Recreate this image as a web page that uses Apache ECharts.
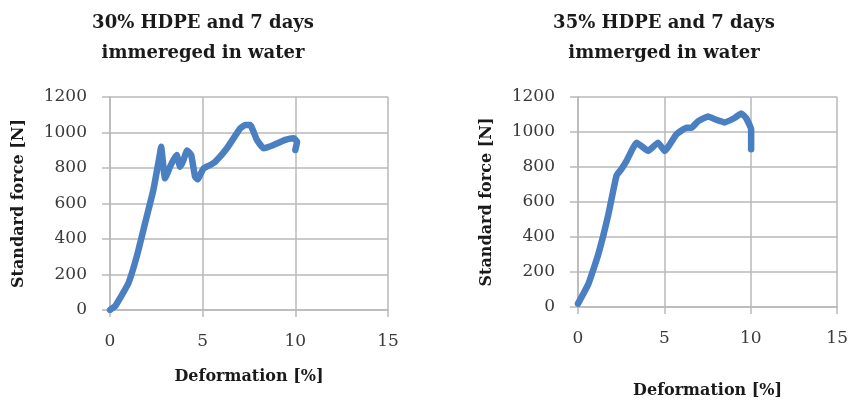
<!DOCTYPE html>
<html><head><meta charset="utf-8">
<script src="https://cdn.jsdelivr.net/npm/echarts@6/dist/echarts.min.js"></script>
<style>html,body{margin:0;padding:0;background:#fff}#c{width:851px;height:404px}</style>
</head><body><div id="c"></div>
<script>
var titles = ['30% HDPE and 7 days\nimmereged in water', '35% HDPE and 7 days\nimmerged in water'];
var xName = 'Deformation [%]';
var yName = 'Standard force [N]';
var xDef30 = [0, 0.3, 0.55, 0.99, 1.44, 1.89, 2.34, 2.67, 2.76, 2.88, 2.97, 3.24, 3.42, 3.6, 3.78, 3.93, 4.16, 4.38, 4.59, 4.72, 5.05, 5.41, 5.68, 6.31, 7.03, 7.3, 7.57, 7.78, 7.93, 8.29, 8.83, 9.46, 9.91, 10.09, 10.0];
var yF30   = [0, 25, 68, 150, 300, 488, 676, 864, 920, 807, 742, 807, 845, 873, 807, 835, 898, 873, 751, 736, 798, 817, 835, 911, 1024, 1042, 1042, 995, 958, 911, 930, 958, 967, 948, 901];
var xDef35 = [0, 0.6, 1.17, 1.75, 2.23, 2.52, 2.81, 3.39, 4.06, 4.63, 5.02, 5.69, 6.27, 6.56, 6.94, 7.52, 8.0, 8.48, 9.06, 9.45, 9.73, 10.02, 10.02];
var yF35   = [19, 131, 300, 526, 751, 789, 835, 939, 892, 939, 892, 986, 1024, 1024, 1061, 1089, 1070, 1055, 1080, 1106, 1080, 1014, 901];

function pairs(xs, ys){ return xs.map(function(x,i){ return [x, ys[i]]; }); }

var serif = '"DejaVu Serif", "Liberation Serif", serif';
var gridCol = '#b9b9b9';
function xAxis(idx, gap){
  return {type:'value', gridIndex:idx, min:0, max:15, interval:5,
    name:xName, nameLocation:'middle', nameGap:gap,
    nameTextStyle:{fontFamily:serif, fontWeight:'bold', fontSize:16, color:'#1a1a1a'},
    axisLine:{show:true, lineStyle:{color:gridCol, width:1.5}},
    axisTick:{show:true, length:7, lineStyle:{color:gridCol, width:1.5}},
    splitLine:{show:true, lineStyle:{color:gridCol, width:1.5}},
    axisLabel:{margin:23, fontFamily:serif, fontSize:17, color:'#3a3a3a', formatter:function(v){return String(v);}}};
}
function yAxis(idx){
  return {type:'value', gridIndex:idx, min:0, max:1200, interval:200,
    name:yName, nameLocation:'middle', nameGap:83,
    nameTextStyle:{fontFamily:serif, fontWeight:'bold', fontSize:16, color:'#1a1a1a'},
    axisLine:{show:true, lineStyle:{color:gridCol, width:1.5}},
    axisTick:{show:true, length:8, lineStyle:{color:gridCol, width:1.5}},
    splitLine:{show:true, lineStyle:{color:gridCol, width:1.5}},
    axisLabel:{margin:23, fontFamily:serif, fontSize:17, color:'#3a3a3a', formatter:function(v){return String(v);}}};
}
function ser(idx, data){
  return {type:'line', xAxisIndex:idx, yAxisIndex:idx, data:data, showSymbol:false, smooth:0.12,
    lineStyle:{color:'#4a7fc1', width:6.5, cap:'round', join:'round'}, silent:true};
}
var chart = echarts.init(document.getElementById('c'), null, {renderer:'canvas'});
chart.setOption({
  animation:false,
  title:[
    {text:titles[0], left:198, top:3, textAlign:'center', textStyle:{fontFamily:serif, fontWeight:'bold', fontSize:18, lineHeight:30, color:'#1a1a1a'}},
    {text:titles[1], left:659, top:3, textAlign:'center', textStyle:{fontFamily:serif, fontWeight:'bold', fontSize:18, lineHeight:30, color:'#1a1a1a'}}
  ],
  grid:[
    {left:110, top:97, width:278, height:213},
    {left:578, top:97, width:260, height:213}
  ],
  xAxis:[xAxis(0, 59), xAxis(1, 76)],
  yAxis:[yAxis(0), yAxis(1)],
  series:[ser(0, pairs(xDef30, yF30)), ser(1, pairs(xDef35, yF35))]
});
</script></body></html>
